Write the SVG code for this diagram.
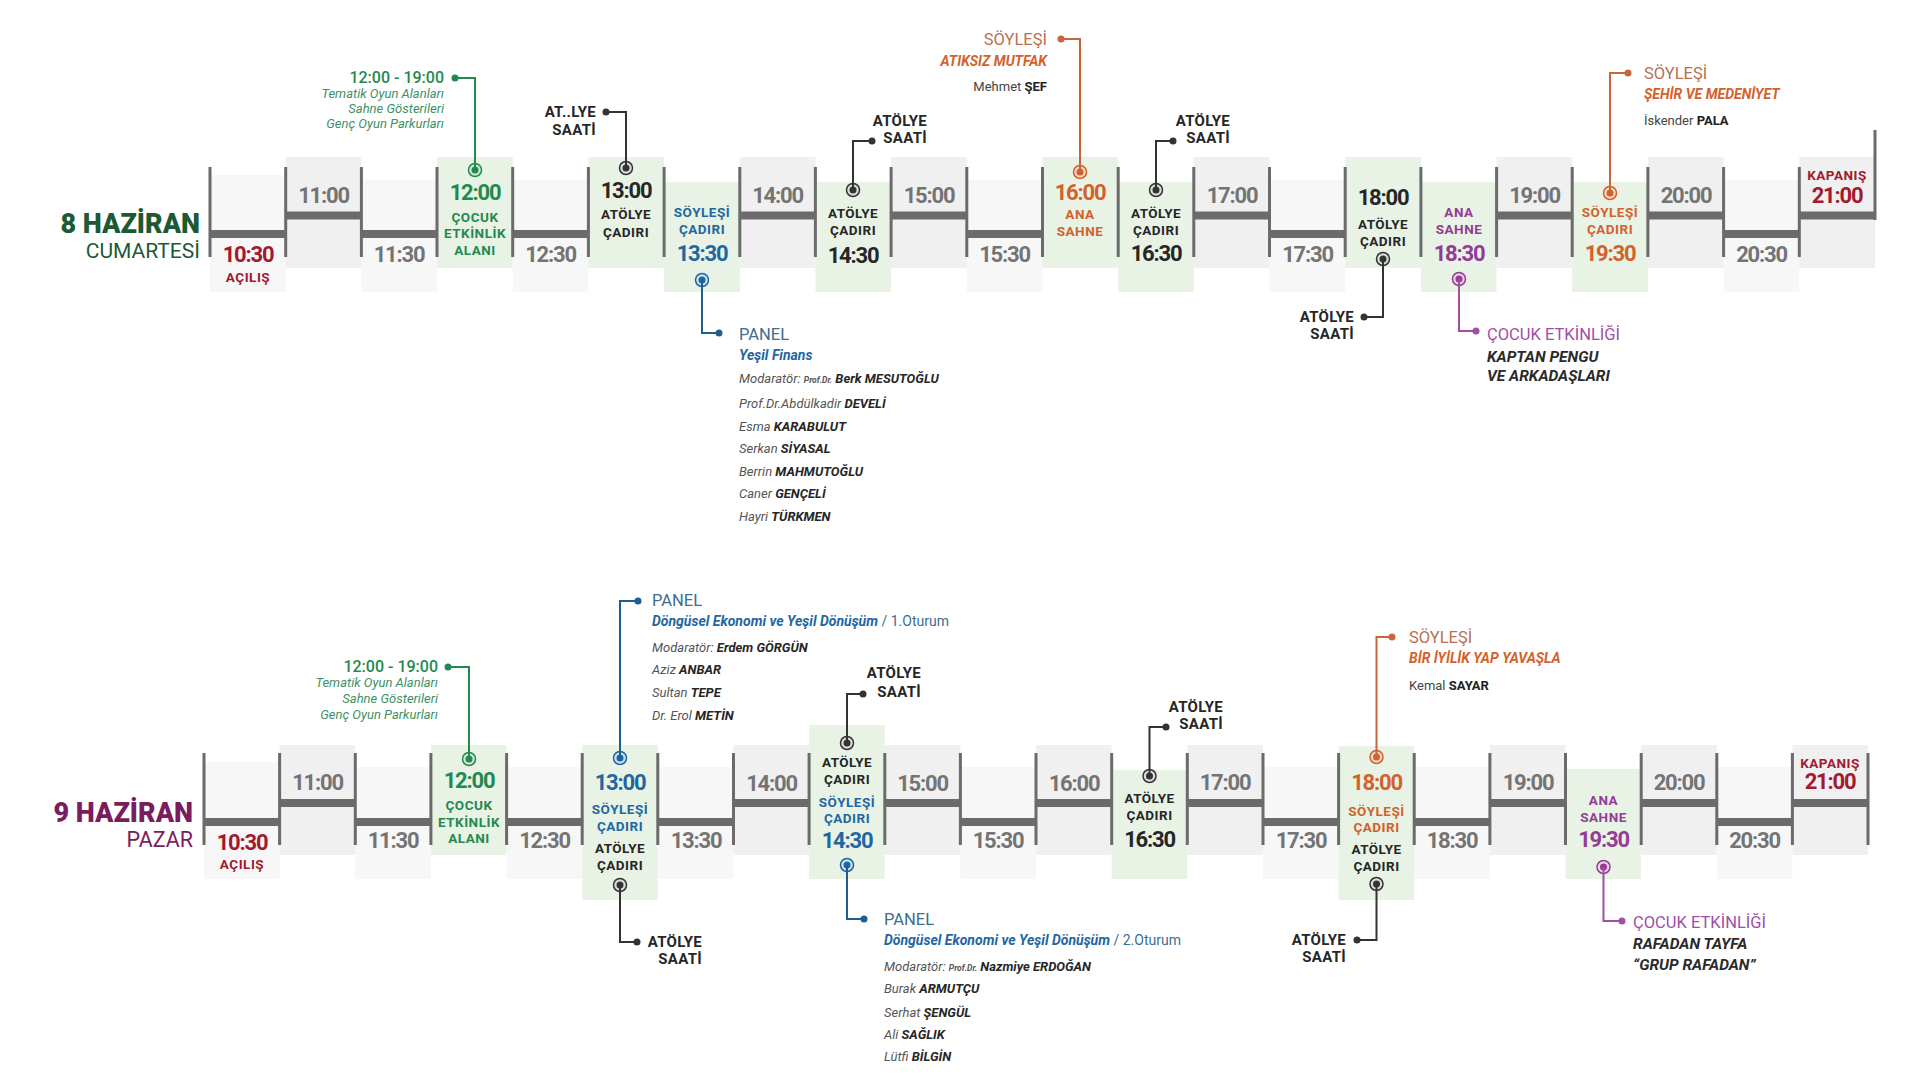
<svg xmlns="http://www.w3.org/2000/svg" width="1920" height="1080" viewBox="0 0 1920 1080">
<style>
text{font-family:Roboto,"Liberation Sans",sans-serif}
.bh{fill:#f0f0f0}
.bf{fill:#f7f7f7}
.bg{fill:#e8f3e6}
.bar{fill:none;stroke:#6b6b6b;stroke-width:8}
.vl{fill:none;stroke:#6b6b6b;stroke-width:3}
.tm{font-weight:700;font-size:22px;text-anchor:middle;letter-spacing:-1.2px}
.lb{font-weight:700;font-size:13.5px;text-anchor:middle;letter-spacing:.5px}
.cl{font-weight:700;font-size:15px;text-anchor:end;fill:#262626;letter-spacing:.3px}
.hd{font-size:16.5px}
.sb{font-size:14px;font-weight:700;font-style:italic}
.pp{font-size:13px;font-style:italic;fill:#555}
.pp tspan.b{font-weight:700;fill:#262626;font-style:italic}
.pp tspan.s{font-size:8.5px;font-weight:700}
.it{font-size:13px;font-style:italic;text-anchor:end;fill:#3d9164}
.nm{font-size:13px;fill:#444}
.bi{font-size:15.5px;font-weight:700;font-style:italic;fill:#2a2a2a}
.gr{fill:#747474}
.dk{fill:#262626}
.gn{fill:#23894f}
.bu{fill:#1f67a0}
.or{fill:#d2622c}
.pu{fill:#953b95}
.rd{fill:#a3192f}
.cn{fill:none;stroke-width:2}
.ring{stroke-width:1.5}
</style>

<!-- ================= DAY 1 ================= -->
<g id="day1-title">
<text x="200" y="233" text-anchor="end" font-size="27" font-weight="900" fill="#1c5a35">8 HAZİRAN</text>
<text x="200" y="258" text-anchor="end" font-size="21" fill="#1c5a35">CUMARTESİ</text>
</g>

<g id="day1-backgrounds">
<rect class="bf" x="210" y="175" width="75.7" height="117"/>
<rect class="bh" x="285.7" y="157" width="75.7" height="111"/>
<rect class="bf" x="361.4" y="180" width="75.7" height="112"/>
<rect class="bg" x="437" y="157" width="75.7" height="111"/>
<rect class="bf" x="512.7" y="180" width="75.7" height="112"/>
<rect class="bg" x="588.4" y="157" width="75.7" height="111"/>
<rect class="bg" x="664.1" y="182" width="75.7" height="110"/>
<rect class="bh" x="739.8" y="157" width="75.7" height="111"/>
<rect class="bg" x="815.4" y="182" width="75.7" height="110"/>
<rect class="bh" x="891.1" y="157" width="75.7" height="111"/>
<rect class="bf" x="966.8" y="180" width="75.7" height="112"/>
<rect class="bg" x="1042.5" y="157" width="75.7" height="111"/>
<rect class="bg" x="1118.2" y="182" width="75.7" height="110"/>
<rect class="bh" x="1193.8" y="157" width="75.7" height="111"/>
<rect class="bf" x="1269.5" y="180" width="75.7" height="112"/>
<rect class="bg" x="1345.2" y="157" width="75.7" height="111"/>
<rect class="bg" x="1420.9" y="182" width="75.7" height="110"/>
<rect class="bh" x="1496.6" y="157" width="75.7" height="111"/>
<rect class="bg" x="1572.2" y="182" width="75.7" height="110"/>
<rect class="bh" x="1647.9" y="157" width="75.7" height="111"/>
<rect class="bf" x="1723.6" y="180" width="75.7" height="112"/>
<rect class="bh" x="1799.3" y="157" width="75.7" height="111"/>
</g>

<g id="day1-timeline">
<path class="bar" d="M210,234H285.7 M285.7,215.5H361.4 M361.4,234H437 M512.7,234H588.4 M739.8,215.5H815.4 M891.1,215.5H966.8 M966.8,234H1042.5 M1193.8,215.5H1269.5 M1269.5,234H1345.2 M1496.6,215.5H1572.2 M1647.9,215.5H1723.6 M1723.6,234H1799.3 M1799.3,215.5H1875"/>
<path class="vl" d="M210,167V257 M285.7,167V257 M361.4,167V257 M437,167V257 M512.7,167V257 M588.4,167V257 M664.1,167V257 M739.8,167V257 M815.4,167V257 M891.1,167V257 M966.8,167V257 M1042.5,167V257 M1118.2,167V257 M1193.8,167V257 M1269.5,167V257 M1345.2,167V257 M1420.9,167V257 M1496.6,167V257 M1572.2,167V257 M1647.9,167V257 M1723.6,167V257 M1799.3,167V257 M1875,130V220"/>
</g>

<g id="d1-1030"><text class="tm rd" x="248" y="262">10:30</text><text class="lb rd" x="248" y="282" font-size="16">AÇILIŞ</text></g>
<g id="d1-1100"><text class="tm gr" x="323.5" y="203">11:00</text></g>
<g id="d1-1130"><text class="tm gr" x="399" y="262">11:30</text></g>
<g id="d1-1200"><text class="tm gn" x="475" y="200">12:00</text><text class="lb gn" x="475" y="222">ÇOCUK</text><text class="lb gn" x="475" y="238">ETKİNLİK</text><text class="lb gn" x="475" y="255">ALANI</text>
<circle class="ring" cx="475" cy="170" r="6.5" fill="#cfe8d8" stroke="#23894f"/><circle cx="475" cy="170" r="3.5" fill="#23894f"/></g>
<g id="d1-1230"><text class="tm gr" x="550.5" y="262">12:30</text></g>
<g id="d1-1300"><text class="tm dk" x="626" y="198">13:00</text><text class="lb dk" x="626" y="219">ATÖLYE</text><text class="lb dk" x="626" y="237">ÇADIRI</text>
<circle class="ring" cx="626" cy="168" r="6.5" fill="#dcdcdc" stroke="#333"/><circle cx="626" cy="168" r="3.5" fill="#333"/></g>
<g id="d1-1330"><text class="lb bu" x="702" y="217">SÖYLEŞİ</text><text class="lb bu" x="702" y="234">ÇADIRI</text><text class="tm bu" x="702" y="261">13:30</text>
<circle class="ring" cx="702" cy="280" r="6.5" fill="#cfe0ee" stroke="#1f67a0"/><circle cx="702" cy="280" r="3.5" fill="#1f67a0"/></g>
<g id="d1-1400"><text class="tm gr" x="777.5" y="203">14:00</text></g>
<g id="d1-1430"><text class="lb dk" x="853" y="218">ATÖLYE</text><text class="lb dk" x="853" y="235">ÇADIRI</text><text class="tm dk" x="853" y="263">14:30</text>
<circle class="ring" cx="853" cy="190" r="6.5" fill="#dcdcdc" stroke="#333"/><circle cx="853" cy="190" r="3.5" fill="#333"/></g>
<g id="d1-1500"><text class="tm gr" x="929" y="203">15:00</text></g>
<g id="d1-1530"><text class="tm gr" x="1004.5" y="262">15:30</text></g>
<g id="d1-1600"><text class="tm or" x="1080" y="200">16:00</text><text class="lb or" x="1080" y="219">ANA</text><text class="lb or" x="1080" y="236">SAHNE</text>
<circle class="ring" cx="1080" cy="172" r="6.5" fill="#f6d9c9" stroke="#d2622c"/><circle cx="1080" cy="172" r="3.5" fill="#d2622c"/></g>
<g id="d1-1630"><text class="lb dk" x="1156" y="218">ATÖLYE</text><text class="lb dk" x="1156" y="235">ÇADIRI</text><text class="tm dk" x="1156" y="261">16:30</text>
<circle class="ring" cx="1156" cy="190" r="6.5" fill="#dcdcdc" stroke="#333"/><circle cx="1156" cy="190" r="3.5" fill="#333"/></g>
<g id="d1-1700"><text class="tm gr" x="1232" y="203">17:00</text></g>
<g id="d1-1730"><text class="tm gr" x="1307.5" y="262">17:30</text></g>
<g id="d1-1800"><text class="tm dk" x="1383" y="205">18:00</text><text class="lb dk" x="1383" y="229">ATÖLYE</text><text class="lb dk" x="1383" y="246">ÇADIRI</text>
<circle class="ring" cx="1383" cy="259" r="6.5" fill="#dcdcdc" stroke="#333"/><circle cx="1383" cy="259" r="3.5" fill="#333"/></g>
<g id="d1-1830"><text class="lb pu" x="1459" y="217">ANA</text><text class="lb pu" x="1459" y="234">SAHNE</text><text class="tm pu" x="1459" y="261">18:30</text>
<circle class="ring" cx="1459" cy="279" r="6.5" fill="#ecd3ec" stroke="#953b95"/><circle cx="1459" cy="279" r="3.5" fill="#953b95"/></g>
<g id="d1-1900"><text class="tm gr" x="1534.5" y="203">19:00</text></g>
<g id="d1-1930"><text class="lb or" x="1610" y="217">SÖYLEŞİ</text><text class="lb or" x="1610" y="234">ÇADIRI</text><text class="tm or" x="1610" y="261">19:30</text>
<circle class="ring" cx="1610" cy="193" r="6.5" fill="#f6d9c9" stroke="#d2622c"/><circle cx="1610" cy="193" r="3.5" fill="#d2622c"/></g>
<g id="d1-2000"><text class="tm gr" x="1686" y="203">20:00</text></g>
<g id="d1-2030"><text class="tm gr" x="1761.5" y="262">20:30</text></g>
<g id="d1-2100"><text class="lb rd" x="1837" y="180">KAPANIŞ</text><text class="tm rd" x="1837" y="203">21:00</text></g>

<!-- day 1 callout labels -->
<g id="d1-cocuk-label">
<text x="444" y="83" text-anchor="end" font-size="16" font-weight="500" fill="#23894f">12:00 - 19:00</text>
<text class="it" x="444" y="98">Tematik Oyun Alanları</text>
<text class="it" x="444" y="113">Sahne Gösterileri</text>
<text class="it" x="444" y="128">Genç Oyun Parkurları</text>
</g>
<g id="d1-atolye1-label"><text class="cl" x="596" y="117">AT..LYE</text><text class="cl" x="596" y="135">SAATİ</text></g>
<g id="d1-panel-label">
<text class="hd" x="739" y="340" fill="#3b6e8f">PANEL</text>
<text class="sb bu" x="739" y="360">Yeşil Finans</text>
<text class="pp" x="739" y="383">Modaratör: <tspan class="s">Prof.Dr.</tspan> <tspan class="b">Berk MESUTOĞLU</tspan></text>
<text class="pp" x="739" y="408">Prof.Dr.Abdülkadir <tspan class="b">DEVELİ</tspan></text>
<text class="pp" x="739" y="431">Esma <tspan class="b">KARABULUT</tspan></text>
<text class="pp" x="739" y="453">Serkan <tspan class="b">SİYASAL</tspan></text>
<text class="pp" x="739" y="476">Berrin <tspan class="b">MAHMUTOĞLU</tspan></text>
<text class="pp" x="739" y="498">Caner <tspan class="b">GENÇELİ</tspan></text>
<text class="pp" x="739" y="521">Hayri <tspan class="b">TÜRKMEN</tspan></text>
</g>
<g id="d1-atolye2-label"><text class="cl" x="927" y="126">ATÖLYE</text><text class="cl" x="927" y="143">SAATİ</text></g>
<g id="d1-soylesi1-label">
<text class="hd" x="1047" y="45" text-anchor="end" fill="#b9704f">SÖYLEŞİ</text>
<text class="sb or" x="1047" y="66" text-anchor="end">ATIKSIZ MUTFAK</text>
<text class="nm" x="1047" y="91" text-anchor="end">Mehmet <tspan font-weight="700" fill="#222">ŞEF</tspan></text>
</g>
<g id="d1-atolye3-label"><text class="cl" x="1230" y="126">ATÖLYE</text><text class="cl" x="1230" y="143">SAATİ</text></g>
<g id="d1-atolye4-label"><text class="cl" x="1354" y="322">ATÖLYE</text><text class="cl" x="1354" y="339">SAATİ</text></g>
<g id="d1-cocuk2-label">
<text class="hd" x="1487" y="340" fill="#a24ea5">ÇOCUK ETKİNLİĞİ</text>
<text class="bi" x="1487" y="362">KAPTAN PENGU</text>
<text class="bi" x="1487" y="381">VE ARKADAŞLARI</text>
</g>
<g id="d1-soylesi2-label">
<text class="hd" x="1644" y="79" fill="#b9704f">SÖYLEŞİ</text>
<text class="sb or" x="1644" y="99">ŞEHİR VE MEDENİYET</text>
<text class="nm" x="1644" y="125">İskender <tspan font-weight="700" fill="#222">PALA</tspan></text>
</g>

<!-- ================= DAY 2 ================= -->
<g id="day2-title">
<text x="193" y="822" text-anchor="end" font-size="27" font-weight="900" fill="#7a1c5e">9 HAZİRAN</text>
<text x="193" y="847" text-anchor="end" font-size="21.5" fill="#7a1c5e">PAZAR</text>
</g>

<g id="day2-backgrounds">
<rect class="bf" x="204" y="762" width="75.6" height="117"/>
<rect class="bh" x="279.6" y="745" width="75.6" height="110"/>
<rect class="bf" x="355.3" y="767" width="75.6" height="112"/>
<rect class="bg" x="430.9" y="745" width="75.6" height="110"/>
<rect class="bf" x="506.6" y="767" width="75.6" height="112"/>
<rect class="bg" x="582.2" y="745" width="75.6" height="155"/>
<rect class="bf" x="657.8" y="767" width="75.6" height="112"/>
<rect class="bh" x="733.5" y="745" width="75.6" height="110"/>
<rect class="bg" x="809.1" y="725" width="75.6" height="154"/>
<rect class="bh" x="884.8" y="745" width="75.6" height="110"/>
<rect class="bf" x="960.4" y="767" width="75.6" height="112"/>
<rect class="bh" x="1036" y="745" width="75.6" height="110"/>
<rect class="bg" x="1111.7" y="770" width="75.6" height="109"/>
<rect class="bh" x="1187.3" y="745" width="75.6" height="110"/>
<rect class="bf" x="1263" y="767" width="75.6" height="112"/>
<rect class="bg" x="1338.6" y="746" width="75.6" height="154"/>
<rect class="bf" x="1414.2" y="767" width="75.6" height="112"/>
<rect class="bh" x="1489.9" y="745" width="75.6" height="110"/>
<rect class="bg" x="1565.5" y="769" width="75.6" height="110"/>
<rect class="bh" x="1641.2" y="745" width="75.6" height="110"/>
<rect class="bf" x="1716.8" y="767" width="75.6" height="112"/>
<rect class="bh" x="1792.4" y="745" width="75.6" height="110"/>
</g>

<g id="day2-timeline">
<path class="bar" d="M204,822H279.6 M279.6,803H355.3 M355.3,822H430.9 M506.6,822H582.2 M657.8,822H733.5 M733.5,803H809.1 M884.8,803H960.4 M960.4,822H1036 M1036,803H1111.7 M1187.3,803H1263 M1263,822H1338.6 M1414.2,822H1489.9 M1489.9,803H1565.5 M1641.2,803H1716.8 M1716.8,822H1792.4 M1792.4,803H1868"/>
<path class="vl" d="M204,753V845 M279.6,753V845 M355.3,753V845 M430.9,753V845 M506.6,753V845 M582.2,753V845 M657.8,753V845 M733.5,753V845 M809.1,753V845 M884.8,753V845 M960.4,753V845 M1036,753V845 M1111.7,753V845 M1187.3,753V845 M1263,753V845 M1338.6,753V845 M1414.2,753V845 M1489.9,753V845 M1565.5,753V845 M1641.2,753V845 M1716.8,753V845 M1792.4,753V845 M1868,753V845"/>
</g>

<g id="d2-1030"><text class="tm rd" x="242" y="850">10:30</text><text class="lb rd" x="242" y="869" font-size="16">AÇILIŞ</text></g>
<g id="d2-1100"><text class="tm gr" x="317.5" y="790">11:00</text></g>
<g id="d2-1130"><text class="tm gr" x="393" y="848">11:30</text></g>
<g id="d2-1200"><text class="tm gn" x="469" y="788">12:00</text><text class="lb gn" x="469" y="810">ÇOCUK</text><text class="lb gn" x="469" y="827">ETKİNLİK</text><text class="lb gn" x="469" y="843">ALANI</text>
<circle class="ring" cx="469" cy="759" r="6.5" fill="#cfe8d8" stroke="#23894f"/><circle cx="469" cy="759" r="3.5" fill="#23894f"/></g>
<g id="d2-1230"><text class="tm gr" x="544.5" y="848">12:30</text></g>
<g id="d2-1300"><text class="tm bu" x="620" y="790">13:00</text><text class="lb bu" x="620" y="814">SÖYLEŞİ</text><text class="lb bu" x="620" y="831">ÇADIRI</text><text class="lb dk" x="620" y="853">ATÖLYE</text><text class="lb dk" x="620" y="870">ÇADIRI</text>
<circle class="ring" cx="620" cy="758" r="6.5" fill="#cfe0ee" stroke="#1f67a0"/><circle cx="620" cy="758" r="3.5" fill="#1f67a0"/>
<circle class="ring" cx="620" cy="885" r="6.5" fill="#dcdcdc" stroke="#333"/><circle cx="620" cy="885" r="3.5" fill="#333"/></g>
<g id="d2-1330"><text class="tm gr" x="696" y="848">13:30</text></g>
<g id="d2-1400"><text class="tm gr" x="771.5" y="791">14:00</text></g>
<g id="d2-1430"><text class="lb dk" x="847" y="767">ATÖLYE</text><text class="lb dk" x="847" y="784">ÇADIRI</text><text class="lb bu" x="847" y="807">SÖYLEŞİ</text><text class="lb bu" x="847" y="823">ÇADIRI</text><text class="tm bu" x="847" y="848">14:30</text>
<circle class="ring" cx="847" cy="743" r="6.5" fill="#dcdcdc" stroke="#333"/><circle cx="847" cy="743" r="3.5" fill="#333"/>
<circle class="ring" cx="847" cy="865" r="6.5" fill="#cfe0ee" stroke="#1f67a0"/><circle cx="847" cy="865" r="3.5" fill="#1f67a0"/></g>
<g id="d2-1500"><text class="tm gr" x="922.5" y="791">15:00</text></g>
<g id="d2-1530"><text class="tm gr" x="998" y="848">15:30</text></g>
<g id="d2-1600"><text class="tm gr" x="1074" y="791">16:00</text></g>
<g id="d2-1630"><text class="lb dk" x="1149.5" y="803">ATÖLYE</text><text class="lb dk" x="1149.5" y="820">ÇADIRI</text><text class="tm dk" x="1149.5" y="847">16:30</text>
<circle class="ring" cx="1149.5" cy="776" r="6.5" fill="#dcdcdc" stroke="#333"/><circle cx="1149.5" cy="776" r="3.5" fill="#333"/></g>
<g id="d2-1700"><text class="tm gr" x="1225" y="790">17:00</text></g>
<g id="d2-1730"><text class="tm gr" x="1301" y="848">17:30</text></g>
<g id="d2-1800"><text class="tm or" x="1376.5" y="790">18:00</text><text class="lb or" x="1376.5" y="816">SÖYLEŞİ</text><text class="lb or" x="1376.5" y="832">ÇADIRI</text><text class="lb dk" x="1376.5" y="854">ATÖLYE</text><text class="lb dk" x="1376.5" y="871">ÇADIRI</text>
<circle class="ring" cx="1376.5" cy="757" r="6.5" fill="#f6d9c9" stroke="#d2622c"/><circle cx="1376.5" cy="757" r="3.5" fill="#d2622c"/>
<circle class="ring" cx="1376.5" cy="884" r="6.5" fill="#dcdcdc" stroke="#333"/><circle cx="1376.5" cy="884" r="3.5" fill="#333"/></g>
<g id="d2-1830"><text class="tm gr" x="1452" y="848">18:30</text></g>
<g id="d2-1900"><text class="tm gr" x="1528" y="790">19:00</text></g>
<g id="d2-1930"><text class="lb pu" x="1603.5" y="805">ANA</text><text class="lb pu" x="1603.5" y="822">SAHNE</text><text class="tm pu" x="1603.5" y="847">19:30</text>
<circle class="ring" cx="1603.5" cy="867" r="6.5" fill="#ecd3ec" stroke="#953b95"/><circle cx="1603.5" cy="867" r="3.5" fill="#953b95"/></g>
<g id="d2-2000"><text class="tm gr" x="1679" y="790">20:00</text></g>
<g id="d2-2030"><text class="tm gr" x="1754.5" y="848">20:30</text></g>
<g id="d2-2100"><text class="lb rd" x="1830" y="768">KAPANIŞ</text><text class="tm rd" x="1830" y="789">21:00</text></g>

<!-- day 2 callout labels -->
<g id="d2-cocuk-label">
<text x="438" y="672" text-anchor="end" font-size="16" font-weight="500" fill="#23894f">12:00 - 19:00</text>
<text class="it" x="438" y="687">Tematik Oyun Alanları</text>
<text class="it" x="438" y="703">Sahne Gösterileri</text>
<text class="it" x="438" y="719">Genç Oyun Parkurları</text>
</g>
<g id="d2-panel1-label">
<text class="hd" x="652" y="606" fill="#3b6e8f">PANEL</text>
<text class="sb bu" x="652" y="626">Döngüsel Ekonomi ve Yeşil Dönüşüm<tspan font-weight="400" font-style="normal" fill="#3b6e8f"> / 1.Oturum</tspan></text>
<text class="pp" x="652" y="652">Modaratör: <tspan class="b">Erdem GÖRGÜN</tspan></text>
<text class="pp" x="652" y="674">Aziz <tspan class="b">ANBAR</tspan></text>
<text class="pp" x="652" y="697">Sultan <tspan class="b">TEPE</tspan></text>
<text class="pp" x="652" y="720">Dr. Erol <tspan class="b">METİN</tspan></text>
</g>
<g id="d2-atolye1-label"><text class="cl" x="702" y="947">ATÖLYE</text><text class="cl" x="702" y="964">SAATİ</text></g>
<g id="d2-atolye2-label"><text class="cl" x="921" y="678">ATÖLYE</text><text class="cl" x="921" y="697">SAATİ</text></g>
<g id="d2-panel2-label">
<text class="hd" x="884" y="925" fill="#3b6e8f">PANEL</text>
<text class="sb bu" x="884" y="945">Döngüsel Ekonomi ve Yeşil Dönüşüm<tspan font-weight="400" font-style="normal" fill="#3b6e8f"> / 2.Oturum</tspan></text>
<text class="pp" x="884" y="971">Modaratör: <tspan class="s">Prof.Dr.</tspan> <tspan class="b">Nazmiye ERDOĞAN</tspan></text>
<text class="pp" x="884" y="993">Burak <tspan class="b">ARMUTÇU</tspan></text>
<text class="pp" x="884" y="1017">Serhat <tspan class="b">ŞENGÜL</tspan></text>
<text class="pp" x="884" y="1039">Ali <tspan class="b">SAĞLIK</tspan></text>
<text class="pp" x="884" y="1061">Lütfi <tspan class="b">BİLGİN</tspan></text>
</g>
<g id="d2-atolye3-label"><text class="cl" x="1223" y="712">ATÖLYE</text><text class="cl" x="1223" y="729">SAATİ</text></g>
<g id="d2-soylesi-label">
<text class="hd" x="1409" y="643" fill="#b9704f">SÖYLEŞİ</text>
<text class="sb or" x="1409" y="663">BİR İYİLİK YAP YAVAŞLA</text>
<text class="nm" x="1409" y="690">Kemal <tspan font-weight="700" fill="#222">SAYAR</tspan></text>
</g>
<g id="d2-atolye4-label"><text class="cl" x="1346" y="945">ATÖLYE</text><text class="cl" x="1346" y="962">SAATİ</text></g>
<g id="d2-cocuk2-label">
<text class="hd" x="1633" y="928" fill="#a24ea5">ÇOCUK ETKİNLİĞİ</text>
<text class="bi" x="1633" y="949">RAFADAN TAYFA</text>
<text class="bi" x="1633" y="970">“GRUP RAFADAN”</text>
</g>

<!-- ================= CONNECTORS ================= -->
<g id="connectors">
<path class="cn" stroke="#23894f" d="M475,170V78H455"/><circle cx="455" cy="78" r="3.5" fill="#23894f"/>
<path class="cn" stroke="#333" d="M626,168V112H606"/><circle cx="606" cy="112" r="3.5" fill="#333"/>
<path class="cn" stroke="#1f5f8f" d="M702,280V333H719"/><circle cx="719" cy="333" r="3.5" fill="#1f5f8f"/>
<path class="cn" stroke="#333" d="M853,190V141H872"/><circle cx="872" cy="141" r="3.5" fill="#333"/>
<path class="cn" stroke="#c8653a" d="M1080,172V39H1061"/><circle cx="1061" cy="39" r="3.5" fill="#c8653a"/>
<path class="cn" stroke="#333" d="M1156,190V141H1173"/><circle cx="1173" cy="141" r="3.5" fill="#333"/>
<path class="cn" stroke="#333" d="M1383,259V317H1364"/><circle cx="1364" cy="317" r="3.5" fill="#333"/>
<path class="cn" stroke="#a24ea5" d="M1459,279V331H1476"/><circle cx="1476" cy="331" r="3.5" fill="#a24ea5"/>
<path class="cn" stroke="#c8653a" d="M1610,193V73H1628"/><circle cx="1628" cy="73" r="3.5" fill="#c8653a"/>

<path class="cn" stroke="#23894f" d="M469,759V667H448"/><circle cx="448" cy="667" r="3.5" fill="#23894f"/>
<path class="cn" stroke="#1f5f8f" d="M620,758V601H638"/><circle cx="638" cy="601" r="3.5" fill="#1f5f8f"/>
<path class="cn" stroke="#333" d="M620,885V942H637"/><circle cx="637" cy="942" r="3.5" fill="#333"/>
<path class="cn" stroke="#333" d="M847,743V694H863"/><circle cx="863" cy="694" r="3.5" fill="#333"/>
<path class="cn" stroke="#1f5f8f" d="M847,865V919H864"/><circle cx="864" cy="919" r="3.5" fill="#1f5f8f"/>
<path class="cn" stroke="#333" d="M1149.5,776V727H1166"/><circle cx="1166" cy="727" r="3.5" fill="#333"/>
<path class="cn" stroke="#c8653a" d="M1376.5,757V637H1392"/><circle cx="1392" cy="637" r="3.5" fill="#c8653a"/>
<path class="cn" stroke="#333" d="M1376.5,884V940H1357"/><circle cx="1357" cy="940" r="3.5" fill="#333"/>
<path class="cn" stroke="#a24ea5" d="M1603.5,867V921H1622"/><circle cx="1622" cy="921" r="3.5" fill="#a24ea5"/>
</g>
</svg>
